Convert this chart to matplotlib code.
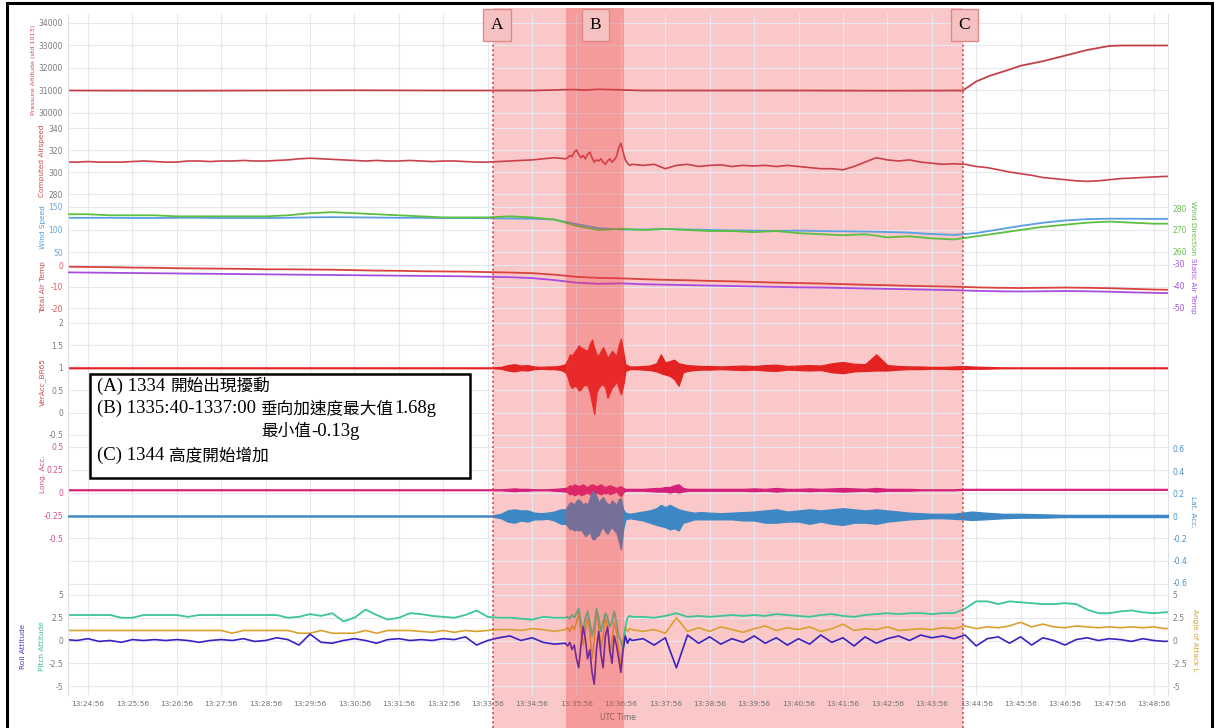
import numpy as np
import matplotlib
matplotlib.use('Agg')
import matplotlib.pyplot as plt
from matplotlib.patches import Rectangle
from matplotlib.lines import Line2D
from matplotlib.transforms import blended_transform_factory

# time axis: minutes after 13:24:56 UTC
t_half = np.arange(-0.5, 24.51, 0.5)     # 51 samples
t_q = np.arange(-0.5, 24.51, 0.25)       # 101 samples
t_b = np.linspace(10.75, 12.25, 31)      # dense window in the strong turbulence

evt_a = 9.12
evt_b = (10.77, 12.07)
evt_c = 19.7

# pressure altitude (ft)
alt_t = [-0.5, 2, 4, 6, 8, 10, 10.9, 11.2, 11.5, 12.5, 14, 16, 18, 19.7,
         20.0, 20.3, 20.7, 21.0, 21.5, 22.0, 22.5, 23.0, 23.3, 24.5]
alt_ft = [31000, 30990, 31000, 31010, 31000, 31000, 31040, 31020, 31050, 31000, 31000, 31000, 30990, 31000,
          31400, 31650, 31900, 32100, 32300, 32550, 32800, 32980, 33000, 33000]

# computed airspeed (kt), 0.25 min grid + dense window
cas = [309, 309, 309.5, 309, 309, 309, 309.5, 310, 309.5, 309,
       309, 310, 310, 309.5, 310, 310, 310.5, 310, 310, 310.5,
       311, 312, 312.5, 312, 311.5, 311, 310.5, 310, 310.5, 310,
       310, 310.5, 310, 309.5, 310, 310, 309.5, 309, 309, 309.5,
       310, 310.5, 311, 312, 313, 312, 315, 312, 310, 312,
       320, 307, 306, 307, 303, 306, 307, 305, 306, 306.5,
       305, 306, 305.5, 306, 305, 306, 305, 304, 303, 303,
       302, 305, 309, 313, 311, 310, 311, 309, 308, 307,
       307.5, 307, 305, 304, 302, 300, 298.5, 297, 295, 294,
       293, 292, 291.5, 292, 293, 294, 294.5, 295, 295.5, 296,
       296]
cas_b = [312, 313, 315, 314, 318, 320, 316, 313, 315, 312, 316, 318, 313, 309, 311, 310,
         312, 309, 307, 310, 312, 309, 311, 314, 322, 326, 318, 311, 308, 306, 307]

# wind speed (kt) / wind direction (deg), 0.5 min grid
wind_spd = [126, 126, 126, 125.5, 125.5, 126, 126, 125.5, 125.5, 125.5,
            126, 127, 127.5, 127, 126.5, 126, 126, 125.5, 125.5, 125,
            124.5, 124, 122, 112, 103, 100, 100, 101, 100, 99,
            98, 97.5, 97, 97.5, 96.5, 96, 95.5, 94.5, 93, 90,
            88, 92, 100, 108, 115, 120, 123, 124, 124, 123.5, 123.5]
wind_dir = [277.5, 277.5, 277, 277, 277, 276.5, 276.5, 276.5, 276.5, 276.5,
            277, 278, 278.5, 278, 277.5, 277, 276.5, 276, 276, 276,
            276.5, 276, 275, 272, 270, 270.5, 270, 270.5, 270, 269.5,
            269.5, 269, 269.5, 268.5, 268, 267.5, 268, 266.5, 267, 266,
            265.5, 267, 268.5, 270, 271.5, 272.5, 273.5, 274, 273.5, 273, 273]

# total / static air temperature (deg C), 0.5 min grid
tat = [-0.8, -0.9, -1.0, -1.2, -1.3, -1.5, -1.6, -1.7, -1.8, -2.0,
       -2.0, -2.1, -2.2, -2.4, -2.6, -2.7, -2.9, -3.0, -3.1, -3.3,
       -3.5, -3.8, -4.5, -5.5, -6.0, -6.2, -6.6, -6.9, -7.1, -7.4,
       -7.6, -7.9, -8.2, -8.4, -8.6, -8.9, -9.2, -9.4, -9.7, -9.9,
       -10.1, -10.4, -10.6, -10.7, -10.6, -10.5, -10.6, -10.8, -11.1, -11.4, -11.6]
sat = [-33.8, -33.9, -34.0, -34.1, -34.2, -34.3, -34.4, -34.5, -34.6, -34.7,
       -34.8, -34.9, -35.0, -35.1, -35.2, -35.3, -35.4, -35.5, -35.6, -35.8,
       -36.0, -36.4, -37.3, -38.5, -39.0, -38.8, -39.2, -39.4, -39.6, -39.8,
       -40.0, -40.2, -40.4, -40.6, -40.7, -40.9, -41.1, -41.3, -41.5, -41.7,
       -41.9, -42.2, -42.4, -42.5, -42.4, -42.3, -42.4, -42.6, -42.9, -43.1, -43.3]

# accelerations: max / min envelope per interval (g)
acc_t = [-0.5, 3.0, 6.0, 8.5,
         9.1, 9.3, 9.45, 9.6, 9.75, 9.9, 10.05, 10.2, 10.35, 10.5, 10.65,
         10.75, 10.8, 10.85, 10.9, 10.95, 11.0, 11.05, 11.1, 11.15, 11.2, 11.25, 11.3, 11.35, 11.4,
         11.45, 11.5, 11.55, 11.6, 11.65, 11.7, 11.75, 11.8, 11.85, 11.9, 11.95, 12.0, 12.05, 12.1,
         12.2, 12.35, 12.5, 12.65, 12.8, 12.9, 13.0, 13.1, 13.2, 13.3, 13.4, 13.5, 13.65, 13.8,
         14.0, 14.25, 14.5, 14.75, 15.0, 15.25, 15.5, 15.75, 16.0, 16.25, 16.5, 16.75,
         17.0, 17.25, 17.5, 17.75, 18.0, 18.25, 18.5, 18.75, 19.0, 19.25, 19.5,
         19.7, 19.9, 20.2, 20.6, 21.0, 21.5, 22.0, 23.0, 24.5]
vacc_hi = [1.01, 1.01, 1.01, 1.01,
           1.01, 1.02, 1.06, 1.08, 1.05, 1.06, 1.03, 1.02, 1.03, 1.03, 1.05,
           1.08, 1.18, 1.30, 1.28, 1.35, 1.42, 1.50, 1.45, 1.43, 1.40, 1.38, 1.54, 1.63, 1.45,
           1.30, 1.28, 1.38, 1.46, 1.35, 1.22, 1.30, 1.38, 1.32, 1.27, 1.50, 1.65, 1.38, 1.08,
           1.03, 1.03, 1.04, 1.05, 1.10, 1.30, 1.12, 1.15, 1.18, 1.10, 1.08, 1.06, 1.05, 1.04,
           1.04, 1.03, 1.04, 1.05, 1.04, 1.06, 1.07, 1.04, 1.05, 1.06, 1.05, 1.10,
           1.13, 1.09, 1.08, 1.30, 1.06, 1.04, 1.03, 1.03, 1.02, 1.02, 1.03,
           1.04, 1.03, 1.02, 1.01, 1.01, 1.01, 1.01, 1.01, 1.01]
vacc_lo = [0.99, 0.99, 0.99, 0.99,
           0.99, 0.98, 0.94, 0.92, 0.95, 0.94, 0.97, 0.98, 0.97, 0.97, 0.95,
           0.90, 0.80, 0.62, 0.55, 0.60, 0.58, 0.49, 0.52, 0.60, 0.62, 0.60, 0.45, 0.20, -0.03,
           0.45, 0.56, 0.62, 0.63, 0.55, 0.33, 0.45, 0.56, 0.62, 0.70, 0.55, 0.41, 0.60, 0.93,
           0.97, 0.97, 0.96, 0.95, 0.92, 0.88, 0.85, 0.82, 0.75, 0.60, 0.90, 0.93, 0.95, 0.96,
           0.96, 0.97, 0.96, 0.95, 0.96, 0.94, 0.93, 0.96, 0.95, 0.94, 0.95, 0.90,
           0.88, 0.92, 0.93, 0.94, 0.94, 0.96, 0.97, 0.97, 0.98, 0.98, 0.97,
           0.97, 0.98, 0.98, 0.99, 0.99, 0.99, 0.99, 0.99, 0.99]
lat_hi = [0.005, 0.005, 0.005, 0.005,
          0.005, 0.02, 0.05, 0.06, 0.05, 0.05, 0.03, 0.025, 0.03, 0.04, 0.06,
          0.06, 0.09, 0.12, 0.12, 0.10, 0.14, 0.15, 0.13, 0.10, 0.12, 0.10, 0.16, 0.22, 0.21,
          0.18, 0.12, 0.15, 0.17, 0.13, 0.11, 0.10, 0.14, 0.12, 0.10, 0.15, 0.16, 0.06, 0.03,
          0.02, 0.03, 0.04, 0.05, 0.07, 0.10, 0.08, 0.10, 0.08, 0.06, 0.05, 0.04, 0.03, 0.035,
          0.03, 0.025, 0.03, 0.035, 0.04, 0.05, 0.06, 0.04, 0.05, 0.06, 0.05, 0.06,
          0.07, 0.06, 0.05, 0.06, 0.05, 0.04, 0.03, 0.025, 0.02, 0.02, 0.02,
          0.03, 0.04, 0.03, 0.02, 0.02, 0.015, 0.01, 0.01, 0.01]
lat_lo = [-0.005, -0.005, -0.005, -0.005,
          -0.005, -0.02, -0.05, -0.06, -0.04, -0.05, -0.03, -0.03, -0.025, -0.04, -0.07,
          -0.07, -0.09, -0.12, -0.11, -0.13, -0.12, -0.13, -0.12, -0.15, -0.18, -0.16, -0.14, -0.20, -0.21,
          -0.18, -0.17, -0.12, -0.10, -0.14, -0.16, -0.12, -0.10, -0.13, -0.15, -0.22, -0.30, -0.12, -0.03,
          -0.02, -0.03, -0.04, -0.06, -0.08, -0.09, -0.10, -0.12, -0.11, -0.13, -0.06, -0.05, -0.03, -0.03,
          -0.03, -0.03, -0.03, -0.04, -0.04, -0.06, -0.06, -0.05, -0.05, -0.07, -0.05, -0.07,
          -0.08, -0.06, -0.06, -0.07, -0.05, -0.04, -0.03, -0.025, -0.02, -0.02, -0.025,
          -0.03, -0.035, -0.03, -0.02, -0.015, -0.015, -0.01, -0.01, -0.01]
lon_hi = [0.035, 0.035, 0.035, 0.035,
          0.035, 0.035, 0.04, 0.045, 0.04, 0.04, 0.035, 0.035, 0.035, 0.04, 0.045,
          0.05, 0.06, 0.08, 0.07, 0.09, 0.08, 0.07, 0.08, 0.09, 0.07, 0.06, 0.08, 0.09, 0.08,
          0.07, 0.08, 0.09, 0.07, 0.06, 0.07, 0.08, 0.07, 0.06, 0.05, 0.06, 0.07, 0.05, 0.04,
          0.04, 0.04, 0.04, 0.045, 0.05, 0.05, 0.06, 0.06, 0.08, 0.09, 0.05, 0.04, 0.04, 0.04,
          0.04, 0.04, 0.04, 0.04, 0.045, 0.04, 0.05, 0.04, 0.04, 0.045, 0.04, 0.045,
          0.05, 0.045, 0.04, 0.05, 0.04, 0.04, 0.04, 0.035, 0.035, 0.035, 0.035,
          0.04, 0.04, 0.04, 0.04, 0.04, 0.04, 0.04, 0.04, 0.04]
lon_lo = [0.025, 0.025, 0.025, 0.025,
          0.025, 0.025, 0.02, 0.015, 0.02, 0.02, 0.025, 0.025, 0.025, 0.02, 0.015,
          0.01, 0.0, -0.02, -0.01, -0.03, -0.02, -0.01, -0.03, -0.02, -0.01, 0.0, -0.02, -0.03, -0.02,
          0.0, -0.01, -0.02, 0.0, -0.01, 0.0, -0.02, -0.01, 0.0, 0.01, -0.02, -0.04, 0.0, 0.02,
          0.02, 0.02, 0.02, 0.015, 0.01, 0.01, 0.01, 0.0, 0.01, 0.0, 0.01, 0.02, 0.02, 0.02,
          0.02, 0.02, 0.02, 0.02, 0.015, 0.02, 0.01, 0.02, 0.02, 0.015, 0.02, 0.015,
          0.01, 0.015, 0.02, 0.01, 0.02, 0.02, 0.02, 0.025, 0.025, 0.025, 0.025,
          0.03, 0.03, 0.03, 0.03, 0.03, 0.03, 0.03, 0.03, 0.03]

# attitudes (deg), 0.25 min grid + dense window
roll = [0.1, 0.0, 0.2, -0.1, 0.0, -0.2, 0.1, 0.0, 0.1, 0.0,
        0.1, 0.0, -0.2, 0.0, 0.1, 0.0, 0.2, -0.1, 0.0, 0.3,
        0.1, -0.5, 0.7, -0.2, -0.3, 0.0, 0.2, 0.0, -0.3, 0.1,
        0.2, 0.0, 0.1, 0.0, 0.2, 0.1, 0.4, -0.5, 0.0, 0.3,
        0.5, 0.0, 0.3, -0.2, -0.4, -0.5, -1.0, -2.0, -1.0, -1.5,
        -2.0, -0.3, 0.2, -0.5, 0.3, -3.0, 0.6, -0.3, 0.4, -0.4,
        0.2, -0.2, 0.5, -0.3, 0.3, -0.5, 0.2, -0.4, 0.6, -0.2,
        0.3, -0.6, 0.4, -0.3, 0.2, 0.5, 0.0, 0.6, 0.3, 0.5,
        0.2, 0.6, -0.6, 0.2, 0.4, -0.3, 0.4, -0.5, 0.3, 0.0,
        -0.5, 0.1, 0.3, 0.0, 0.2, 0.1, -0.1, 0.2, 0.0, -0.1,
        0.0]
roll_b = [-0.3, -0.6, -0.2, -1.0, -0.5, -2.0, -3.0, -0.5, 1.5, 0.2, -2.0, -1.0, -3.5, -4.8, -1.0, 1.0,
          -1.5, -3.0, 0.5, 1.5, -1.0, -2.5, 0.5, -0.5, -2.0, -3.5, -1.0, 0.5, -0.3, 0.2, 0.0]
pitch = [2.8, 2.8, 2.8, 2.8, 2.8, 2.5, 2.5, 2.8, 2.8, 2.8,
         2.8, 2.6, 2.8, 2.8, 2.8, 2.8, 2.8, 2.8, 2.8, 2.8,
         2.5, 2.6, 2.9, 2.7, 3.0, 2.1, 2.5, 3.4, 2.8, 2.3,
         2.5, 3.0, 2.9, 2.7, 2.6, 2.5, 2.8, 3.3, 2.6, 2.5,
         2.5, 2.4, 2.3, 2.6, 2.5, 2.5, 3.0, 2.0, 3.0, 2.0,
         1.0, 2.5, 2.6, 2.5, 2.7, 3.0, 2.6, 2.7, 2.6, 2.7,
         2.8, 2.7, 2.8, 2.7, 2.9, 2.8, 2.7, 2.6, 2.8, 2.9,
         2.7, 2.6, 2.8, 2.9, 3.0, 2.9, 3.0, 3.0, 2.9, 3.0,
         3.0, 3.5, 4.3, 4.3, 4.0, 4.3, 4.2, 4.1, 4.0, 4.0,
         4.1, 4.0, 3.4, 3.0, 3.0, 3.2, 3.3, 3.1, 3.0, 3.1,
         3.1]
pitch_b = [2.5, 2.6, 2.4, 2.8, 2.5, 3.0, 3.5, 2.0, 1.0, 2.5, 3.2, 2.0, 0.5, 1.5, 3.5, 2.5,
           1.0, 2.0, 3.0, 2.5, 1.5, 2.0, 3.2, 2.0, 0.5, 0.0, -1.0, 1.5, 2.5, 2.7, 2.6]
aoa = [1.1, 1.1, 1.1, 1.1, 1.1, 1.1, 1.1, 1.1, 1.1, 1.1,
       1.1, 1.1, 1.1, 1.1, 1.1, 0.8, 1.1, 1.1, 1.1, 1.1,
       1.1, 0.8, 0.8, 1.1, 0.8, 0.8, 0.8, 1.1, 0.8, 1.1,
       1.1, 1.1, 1.0, 0.9, 1.1, 0.9, 1.1, 1.0, 1.1, 1.2,
       1.2, 1.1, 1.3, 1.2, 1.0, 1.2, 2.0, 0.0, 2.0, 0.0,
       1.0, 1.2, 1.0, 1.2, 0.8, 2.5, 1.0, 1.4, 1.0, 1.5,
       1.2, 0.9, 1.3, 1.6, 1.1, 1.4, 1.2, 1.5, 1.0, 1.3,
       1.8, 1.1, 1.3, 1.2, 1.5, 1.1, 1.2, 1.3, 1.2, 1.4,
       1.3, 1.6, 1.3, 1.5, 1.4, 1.6, 2.0, 1.5, 1.8, 1.5,
       1.4, 1.6, 1.5, 1.4, 1.5, 1.4, 1.5, 1.4, 1.5, 1.3,
       1.4]
aoa_b = [1.2, 1.4, 1.0, 1.6, 1.2, 2.0, 3.0, 1.0, -0.5, 1.0, 2.5, 1.0, -2.0, 0.0, 3.3, 1.5,
         -1.0, 0.5, 2.5, 1.5, -1.5, 0.0, 2.0, 1.0, -1.0, -2.8, 0.0, 1.5, 1.0, 1.3, 1.2]

minutes = list(range(25))
tick_labels = [f'13:{24 + m}:56' for m in minutes]


def with_window(vals, vals_b):
    keep = (t_q < t_b[0]) | (t_q > t_b[-1])
    t = np.concatenate([t_q[keep], t_b])
    v = np.concatenate([np.asarray(vals, float)[keep], vals_b])
    order = np.argsort(t)
    return t[order], v[order]


W, H = 1217, 728
L, R = 68, 1168
GRID = '#e7e8ef'
fig = plt.figure(figsize=(W / 100, H / 100), dpi=100)
fig.patch.set_facecolor('white')


def panel(top, bot):
    ax = fig.add_axes([L / W, 1 - bot / H, (R - L) / W, (bot - top) / H])
    ax.patch.set_visible(False)
    ax.set_xlim(-0.45, 24.32)
    ax.set_xticks(minutes)
    ax.grid(True, color=GRID, lw=0.8)
    ax.set_axisbelow(True)
    ax.tick_params(length=0, labelsize=5.5, labelcolor='#7a7a7a', pad=3.5)
    ax.tick_params(axis='x', labelbottom=False)
    for s in ('top', 'bottom'):
        ax.spines[s].set_visible(False)
    for s in ('left', 'right'):
        ax.spines[s].set_color('#dfe1ea')
        ax.spines[s].set_linewidth(0.8)
    return ax


def scale(ax, ticks, v1, p1, v2, p2, top, bot, color='#7a7a7a', labels=None):
    s = (v2 - v1) / (p2 - p1)
    ax.set_ylim(v1 + (bot - p1) * s, v1 + (top - p1) * s)
    if labels is None:
        labels = [f'{v:g}' for v in ticks]
    ax.set_yticks(ticks, labels)
    ax.tick_params(axis='y', labelcolor=color)


def twin(ax):
    tw = ax.twinx()
    tw.grid(False)
    for s in tw.spines.values():
        s.set_visible(False)
    tw.tick_params(length=0, labelsize=5.5, pad=3)
    return tw


# 1 pressure altitude
ax1 = panel(14, 120)
scale(ax1, [30000, 31000, 32000, 33000, 34000], 34000, 23, 30000, 113, 14, 120)
ax1.plot(alt_t, alt_ft, color='#c3404a', lw=1.3)

# 2 computed airspeed
ax2 = panel(120, 200)
scale(ax2, [280, 300, 320, 340], 340, 128, 280, 194, 120, 200)
ax2.plot(*with_window(cas, cas_b), color='#c8404a', lw=1.2)

# 3 wind speed / direction
ax3 = panel(200, 260)
scale(ax3, [50, 100, 150], 150, 207, 50, 252, 200, 260, color='#6aa3d8')
ax3.plot(t_half, wind_spd, color='#5a9fe0', lw=1.3)
ax3r = twin(ax3)
scale(ax3r, [260, 270, 280], 280, 209, 260, 251, 200, 260, color='#6cbd52')
ax3r.plot(t_half, wind_dir, color='#5cbf3f', lw=1.3)

# 4 total / static air temperature
ax4 = panel(260, 314)
scale(ax4, [-20, -10, 0], 0, 265, -20, 308, 260, 314, color='#d85a5a')
ax4.plot(t_half, tat, color='#d9423f', lw=1.3)
ax4r = twin(ax4)
scale(ax4r, [-50, -40, -30], -30, 264, -50, 308, 260, 314, color='#a64de0')
ax4r.plot(t_half, sat, color='#a64de0', lw=1.3)

# 5 vertical acceleration
ax5 = panel(314, 441)
scale(ax5, [-0.5, 0, 0.5, 1, 1.5, 2], 2, 323, -0.5, 435, 314, 441)
ax5.fill_between(acc_t, vacc_lo, vacc_hi, color='#e52222', lw=0.9)

# 6 longitudinal / lateral acceleration
ax6 = panel(441, 589)
lon_ticks = [-1, -0.75, -0.5, -0.25, 0, 0.25, 0.5]
scale(ax6, lon_ticks, 0.5, 447, -0.5, 538, 441, 589, color='#d4508e',
      labels=['', '', '-0.5', '-0.25', '0', '0.25', '0.5'])
ax6.fill_between(acc_t, lon_lo, lon_hi, color='#d4207a', lw=0.9)
ax6r = twin(ax6)
scale(ax6r, [-0.6, -0.4, -0.2, 0, 0.2, 0.4, 0.6], 0.6, 449, -0.6, 583, 441, 589, color='#4a90c8')
ax6r.fill_between(acc_t, lat_lo, lat_hi, color='#3d88c4', lw=0.9)

# 7 attitudes and angle of attack
ax7 = panel(589, 695)
scale(ax7, [-5, -2.5, 0, 2.5, 5], 5, 595, -5, 686, 589, 695)
ax7.plot(*with_window(aoa, aoa_b), color='#d9a030', lw=1.2)
ax7.plot(*with_window(pitch, pitch_b), color='#3cc596', lw=1.3)
ax7.plot(*with_window(roll, roll_b), color='#3a22c0', lw=1.2)
ax7r = twin(ax7)
scale(ax7r, [-5, -2.5, 0, 2.5, 5], 5, 595, -5, 686, 589, 695)
ax7.set_xticks(minutes, tick_labels)
ax7.tick_params(axis='x', labelbottom=True, labelsize=5.3, labelcolor='#707070', pad=4)
fig.text(618 / W, 1 - 718 / H, 'UTC Time', fontsize=5.5, color='#707070', ha='center', va='center')

# axis titles
def side_label(x, y, s, color, rot=90, size=5.3):
    fig.text(x / W, 1 - y / H, s, rotation=rot, fontsize=size, color=color, ha='center', va='center')


side_label(33, 70, 'Pressure Altitude (std 1013)', '#d04848', size=4.6)
side_label(42, 161, 'Computed Airspeed', '#d04848')
side_label(43, 227, 'Wind Speed', '#4a9ad8')
side_label(43, 287, 'Total Air Temp', '#d04848')
side_label(43, 382, 'VerAcc_BR65', '#d04848')
side_label(43, 474, 'Long. Acc.', '#d04888')
side_label(23, 646, 'Roll Attitude', '#3f3fc0')
side_label(42, 646, 'Pitch Attitude', '#3cc08f')
side_label(1193, 228, 'Wind Direction', '#66b84a', rot=270)
side_label(1193, 286, 'Static Air Temp', '#a64de0', rot=270)
side_label(1193, 512, 'Lat. Acc.', '#4a90c8', rot=270)
side_label(1195, 640, 'Angle of Attack L', '#d9a030', rot=270)

# event shading, markers and labels
tr = blended_transform_factory(ax7.transData, fig.transFigure)
fig.add_artist(Rectangle((evt_a, 0), evt_c - evt_a, 1 - 8 / H, transform=tr,
                         fc='#f03c3c', alpha=0.28, ec='none', zorder=-1))
fig.add_artist(Rectangle((evt_b[0], 0), evt_b[1] - evt_b[0], 1 - 8 / H, transform=tr,
                         fc='#f03c3c', alpha=0.32, ec='none', zorder=5))
for xe in (evt_a, evt_c):
    fig.add_artist(Line2D([xe, xe], [0, 1 - 40 / H], transform=tr, color='#d84848',
                          lw=1.2, ls=(0, (1.2, 1.6)), zorder=6))
for xe, s in ((evt_a + 0.09, 'A'), (sum(evt_b) / 2, 'B'), (evt_c + 0.03, 'C')):
    fig.text(xe, 1 - 25 / H, s, transform=tr, ha='center', va='center', fontsize=12.5,
             family='Liberation Serif', zorder=7,
             bbox=dict(boxstyle='square,pad=0.45', fc='#f6c1c1', ec='#df8a8a', lw=1))

# annotation box
fig.add_artist(Rectangle((90 / W, 1 - 478 / H), 380 / W, 104 / H, transform=fig.transFigure,
                         fc='white', ec='black', lw=1.8, zorder=8))
renderer = fig.canvas.get_renderer()


def rich_line(x, y, parts):
    for s, cjk in parts:
        if s == ' ':
            x += 5
            continue
        t = fig.text(x / W, 1 - y / H, s, va='baseline', ha='left', zorder=9,
                     fontsize=12 if cjk else 13.5,
                     family='Noto Sans CJK TC' if cjk else 'Liberation Serif')
        x += t.get_window_extent(renderer).width
    return x


rich_line(97, 391, [('(A) 1334', False), (' ', False), ('開始出現擾動', True)])
x_cjk = rich_line(97, 413, [('(B) 1335:40-1337:00', False), (' ', False)])
rich_line(x_cjk, 413, [('垂向加速度最大值', True), ('1.68g', False)])
rich_line(x_cjk, 436, [('最小值', True), ('-0.13g', False)])
rich_line(97, 460, [('(C) 1344', False), (' ', False), ('高度開始增加', True)])

# outer frame
fig.add_artist(Rectangle((7 / W, -0.01), 1205 / W, 1.01 - 3 / H, transform=fig.transFigure,
                         fill=False, ec='black', lw=2.2, zorder=20))

fig.savefig('out.png', dpi=100)
